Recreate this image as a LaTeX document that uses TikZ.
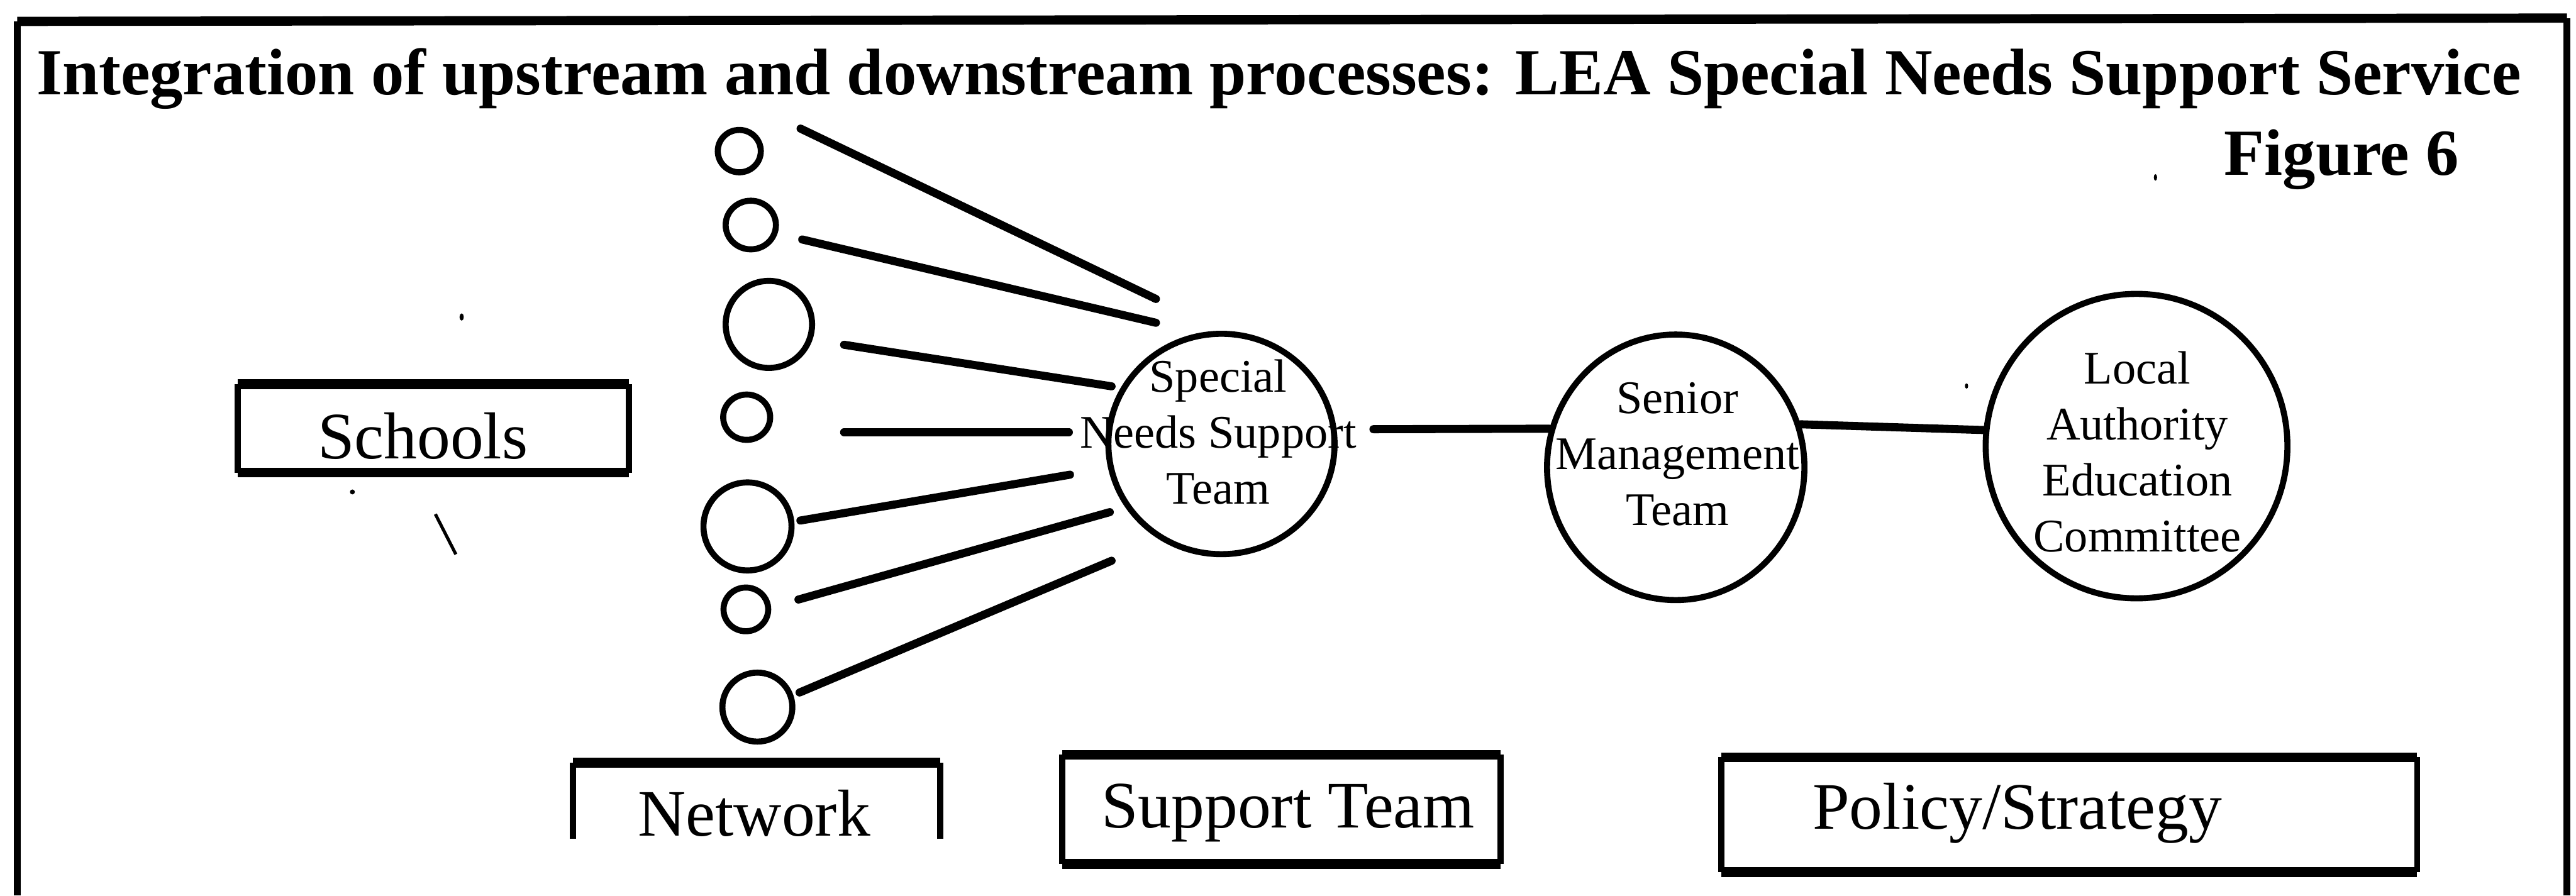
\documentclass[tikz,border=0pt]{standalone}
\usepackage{fontspec}
\setmainfont{Liberation Serif}
\usetikzlibrary{shapes.geometric}
\tikzset{
  frameside/.style={line width=2.3pt},
  frametop/.style={line width=3.2pt},
  ring/.style 2 args={ellipse, draw, line width=2.1pt, inner sep=0pt,
                      minimum width=#1, minimum height=#2},
  wire/.style={line width=2.8pt, line cap=round},
  boxshape/.style 2 args={rectangle, inner sep=0pt, minimum width=#1, minimum height=#2},
  boxside/.style={line width=2.1pt},
  boxedge/.style={line width=3.4pt},
  tag/.style={inner sep=0pt, font=\fontsize{23}{27.6}\selectfont},
  teamtext/.style={inner sep=0pt, align=center, font=\fontsize{16.2}{19.35}\selectfont},
  heading/.style={inner sep=0pt, font=\fontsize{22.8}{27}\selectfont\bfseries},
}

\begin{document}
\begin{tikzpicture}[x=0.02cm, y=-0.02cm]
\useasboundingbox (0,0) rectangle (1568,545.16);

% outer frame, open at the bottom
\coordinate (fbl) at (10.5,545.16);
\coordinate (ftl) at (10.5,13);
\coordinate (ftr) at (1562.5,11);
\coordinate (fbr) at (1562.5,545.16);
\draw[frameside] (fbl) -- (ftl);
\draw[frameside] (fbr) -- (ftr);
\draw[frametop] (ftl) -- (ftr);

% headings
\node[heading, anchor=base west] (title) at (22,57.5)
  {Integration of upstream and downstream processes: LEA Special Needs Support Service};
\node[heading, anchor=base east] (fig) at (1497,106.6) {Figure 6};

% Schools box
\node[boxshape={4.748cm}{1.062cm}] (schoolsbox) at (263.7,260.85) {};
\draw[boxside] (schoolsbox.north west) -- (schoolsbox.south west);
\draw[boxside] (schoolsbox.north east) -- (schoolsbox.south east);
\draw[boxedge] (schoolsbox.north west) -- (schoolsbox.north east);
\draw[boxedge] (schoolsbox.south west) -- (schoolsbox.south east);
\node[tag, anchor=base west] (schools) at (193,279.1) {Schools};

% Network box (no bottom edge)
\node[boxshape={4.46cm}{0.916cm}] (netbox) at (460.5,487.6) {};
\draw[boxside] (netbox.south west) -- (netbox.north west);
\draw[boxside] (netbox.south east) -- (netbox.north east);
\draw[boxedge] (netbox.north west) -- (netbox.north east);
\node[tag, anchor=base west] (network) at (388,509) {Network};

% Support Team box
\node[boxshape={5.32cm}{1.314cm}] (supbox) at (780,492.75) {};
\draw[boxside] (supbox.north west) -- (supbox.south west);
\draw[boxside] (supbox.north east) -- (supbox.south east);
\draw[boxedge] (supbox.north west) -- (supbox.north east);
\draw[boxedge] (supbox.south west) -- (supbox.south east);
\node[tag, anchor=base west] (support) at (670,504) {Support Team};

% Policy/Strategy box
\node[boxshape={8.46cm}{1.384cm}] (polbox) at (1259.5,496) {};
\draw[boxside] (polbox.north west) -- (polbox.south west);
\draw[boxside] (polbox.north east) -- (polbox.south east);
\draw[boxedge] (polbox.north west) -- (polbox.north east);
\draw[boxedge] (polbox.south west) -- (polbox.south east);
\node[tag, anchor=base west] (policy) at (1103,504.7) {Policy/Strategy};

% the network of schools
\node[ring={0.524cm}{0.516cm}] (s1) at (450,92) {};
\node[ring={0.612cm}{0.592cm}] (s2) at (457,137) {};
\node[ring={1.052cm}{1.06cm}]  (s3) at (468,197.5) {};
\node[ring={0.572cm}{0.552cm}] (s4) at (454.5,254) {};
\node[ring={1.072cm}{1.072cm}] (s5) at (455,320.5) {};
\node[ring={0.544cm}{0.532cm}] (s6) at (454,371) {};
\node[ring={0.852cm}{0.84cm}]  (s7) at (461,430.5) {};

% teams
\node[ring={2.754cm}{2.684cm}] (snst) at (743.5,270.3) {};
\node[ring={3.134cm}{3.234cm}] (smt)  at (1020,284.5) {};
\node[ring={3.674cm}{3.708cm}] (laec) at (1300.5,271.6) {};
\node[teamtext] (snsttext) at (741.5,263) {Special\\Needs Support\\Team};
\node[teamtext] (smttext)  at (1021,276.4) {Senior\\Management\\Team};
\node[teamtext] (laectext) at (1301,275) {Local\\Authority\\Education\\Committee};

% links from the schools to the support team
\coordinate (a1) at (487.3,78.3);  \coordinate (b1) at (703.6,182);
\coordinate (a2) at (488.3,145.8); \coordinate (b2) at (703.6,196.5);
\coordinate (a3) at (513.8,209.9); \coordinate (b3) at (676.6,235.2);
\coordinate (a4) at (513.8,263.1); \coordinate (b4) at (650.6,263.1);
\coordinate (a5) at (487.2,316.9); \coordinate (b5) at (651.3,289);
\coordinate (a6) at (486,365);     \coordinate (b6) at (675.5,311.8);
\coordinate (a7) at (486.7,421.6); \coordinate (b7) at (676.6,341.4);
\foreach \i in {1,...,7} { \draw[wire] (a\i) -- (b\i); }

% chain of teams
\coordinate (m1) at (836,261.3);
\draw[wire] (m1) -- (smt.163);
\draw[wire] (smt.19) -- (laec.174);

% stray marks
\fill (281,193) ellipse (0.026cm and 0.044cm);
\fill (214.5,299.5) circle (0.03cm);
\fill (1312,108) ellipse (0.02cm and 0.04cm);
\fill (1197,235) ellipse (0.02cm and 0.032cm);
\draw[line width=1.1pt] (265,313) -- (277.5,337.5);
\end{tikzpicture}
\end{document}
